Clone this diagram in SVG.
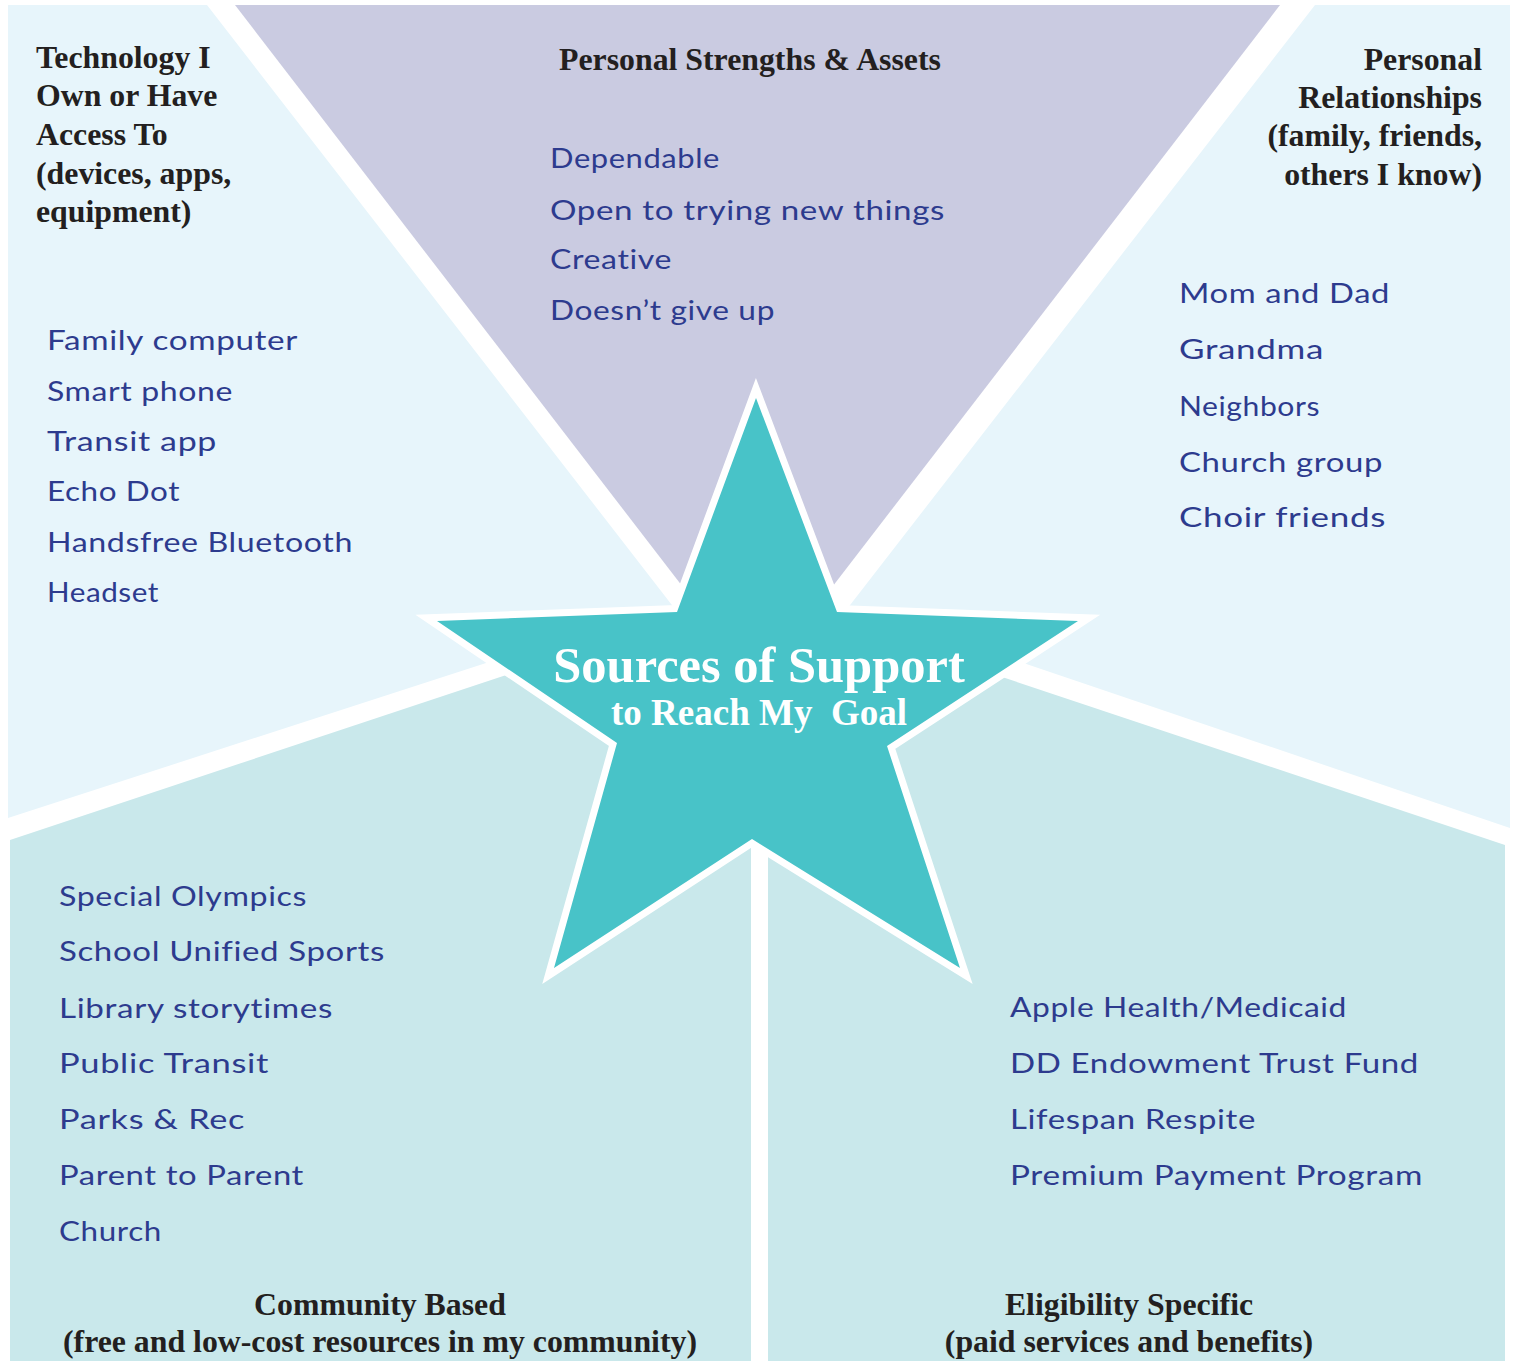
<svg xmlns="http://www.w3.org/2000/svg" width="1514" height="1361" viewBox="0 0 1514 1361">
<style>
.hdr{font-family:"Liberation Serif","Times New Roman",serif;font-weight:bold;font-size:31.8px;fill:#231F20}
.hw{font-family:Lato,"DejaVu Sans",sans-serif;font-size:26px;fill:#2D3B8E;letter-spacing:0.5px}
.light{fill:#E7F5FB}
.lav{fill:#CACBE1}
.bot{fill:#C9E8EB}
.star{fill:#48C3C8;stroke:#FFFFFF;stroke-width:14;stroke-linejoin:miter;stroke-miterlimit:10;paint-order:stroke}
.st1{font-family:"Liberation Serif","Times New Roman",serif;font-weight:bold;fill:#FFFFFF}
</style>
<rect width="1514" height="1361" fill="#FFFFFF"/>

<g id="tech">
<polygon class="light" points="8,5 207,5 699,640 520,652 8,818"/>
<text class="hdr" x="36" y="68">Technology I</text>
<text class="hdr" x="36" y="106">Own or Have</text>
<text class="hdr" x="36" y="145">Access To</text>
<text class="hdr" x="36" y="184">(devices, apps,</text>
<text class="hdr" x="36" y="222">equipment)</text>
<text class="hw" x="47" y="350" textLength="251" lengthAdjust="spacingAndGlyphs">Family computer</text>
<text class="hw" x="47" y="401" textLength="186" lengthAdjust="spacingAndGlyphs">Smart phone</text>
<text class="hw" x="47" y="451" textLength="170" lengthAdjust="spacingAndGlyphs">Transit app</text>
<text class="hw" x="47" y="501" textLength="133" lengthAdjust="spacingAndGlyphs">Echo Dot</text>
<text class="hw" x="47" y="552" textLength="306" lengthAdjust="spacingAndGlyphs">Handsfree Bluetooth</text>
<text class="hw" x="47" y="602" textLength="112" lengthAdjust="spacingAndGlyphs">Headset</text>
</g>

<g id="strengths">
<polygon class="lav" points="235,5 1280,5 757.5,684"/>
<text class="hdr" x="750" y="70" text-anchor="middle">Personal Strengths &amp; Assets</text>
<text class="hw" x="550" y="168" textLength="170" lengthAdjust="spacingAndGlyphs">Dependable</text>
<text class="hw" x="550" y="220" textLength="395" lengthAdjust="spacingAndGlyphs">Open to trying new things</text>
<text class="hw" x="550" y="269" textLength="122" lengthAdjust="spacingAndGlyphs">Creative</text>
<text class="hw" x="550" y="320" textLength="225" lengthAdjust="spacingAndGlyphs">Doesn’t give up</text>
</g>

<g id="relationships">
<polygon class="light" points="1315,5 1510,5 1510,828 1000,655 823,640"/>
<text class="hdr" x="1482" y="70" text-anchor="end">Personal</text>
<text class="hdr" x="1482" y="108" text-anchor="end">Relationships</text>
<text class="hdr" x="1482" y="146" text-anchor="end">(family, friends,</text>
<text class="hdr" x="1482" y="185" text-anchor="end">others I know)</text>
<text class="hw" x="1179" y="303" textLength="211" lengthAdjust="spacingAndGlyphs">Mom and Dad</text>
<text class="hw" x="1179" y="359" textLength="145" lengthAdjust="spacingAndGlyphs">Grandma</text>
<text class="hw" x="1179" y="416" textLength="141" lengthAdjust="spacingAndGlyphs">Neighbors</text>
<text class="hw" x="1179" y="472" textLength="204" lengthAdjust="spacingAndGlyphs">Church group</text>
<text class="hw" x="1179" y="527" textLength="207" lengthAdjust="spacingAndGlyphs">Choir friends</text>
</g>

<g id="community">
<polygon class="bot" points="10,840 530,667 751,667 751,1361 10,1361"/>
<text class="hw" x="59" y="906" textLength="248" lengthAdjust="spacingAndGlyphs">Special Olympics</text>
<text class="hw" x="59" y="961" textLength="326" lengthAdjust="spacingAndGlyphs">School Unified Sports</text>
<text class="hw" x="59" y="1018" textLength="274" lengthAdjust="spacingAndGlyphs">Library storytimes</text>
<text class="hw" x="59" y="1073" textLength="210" lengthAdjust="spacingAndGlyphs">Public Transit</text>
<text class="hw" x="59" y="1129" textLength="186" lengthAdjust="spacingAndGlyphs">Parks &amp; Rec</text>
<text class="hw" x="59" y="1185" textLength="245" lengthAdjust="spacingAndGlyphs">Parent to Parent</text>
<text class="hw" x="59" y="1241" textLength="103" lengthAdjust="spacingAndGlyphs">Church</text>
<text class="hdr" x="380" y="1315" text-anchor="middle">Community Based</text>
<text class="hdr" x="380" y="1352" text-anchor="middle">(free and low-cost resources in my community)</text>
</g>

<g id="eligibility">
<polygon class="bot" points="768,667 990,673 1505,845 1505,1361 768,1361"/>
<text class="hw" x="1010" y="1017" textLength="337" lengthAdjust="spacingAndGlyphs">Apple Health/Medicaid</text>
<text class="hw" x="1010" y="1073" textLength="409" lengthAdjust="spacingAndGlyphs">DD Endowment Trust Fund</text>
<text class="hw" x="1010" y="1129" textLength="246" lengthAdjust="spacingAndGlyphs">Lifespan Respite</text>
<text class="hw" x="1010" y="1185" textLength="413" lengthAdjust="spacingAndGlyphs">Premium Payment Program</text>
<text class="hdr" x="1129" y="1315" text-anchor="middle">Eligibility Specific</text>
<text class="hdr" x="1129" y="1352" text-anchor="middle">(paid services and benefits)</text>
</g>

<g id="goal-star">
<polygon class="star" points="756,398 837,612 1078,621 887,746 960,968 752,839 554,968 617,743 437,621 677,612"/>
<text class="st1" x="759" y="682" text-anchor="middle" font-size="50.5">Sources of Support</text>
<text class="st1" x="759" y="725" text-anchor="middle" font-size="37" xml:space="preserve">to Reach My  Goal</text>
</g>

<g id="connectors"></g>
</svg>
